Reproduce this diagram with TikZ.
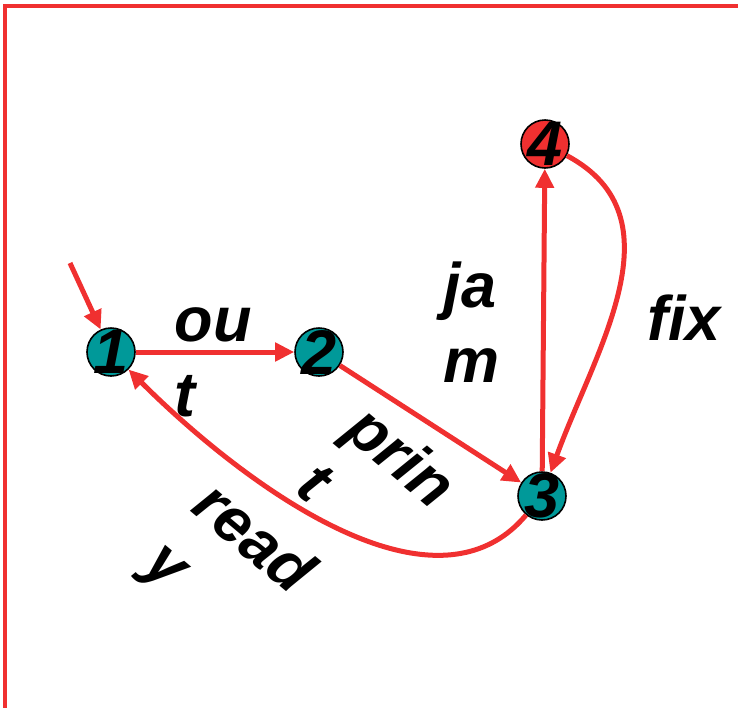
\documentclass[tikz,border=0pt]{standalone}
\usepackage{fontspec}
\setmainfont{Liberation Sans}
\usetikzlibrary{arrows.meta}
\definecolor{sc}{RGB}{0,153,153}
\definecolor{ac}{RGB}{240,48,48}
\tikzset{st/.style={circle,draw,line width=1.6pt,fill=sc,minimum size=48pt,inner sep=0pt},
 fs/.style={st,fill=ac},
 lab/.style={font=\fontsize{63}{75}\selectfont\bfseries\itshape,align=left,inner sep=0pt},
 dg/.style={lab,text=black},
 arr/.style={draw=ac,line width=5pt,-{Triangle[length=19pt,width=18pt]}}}
\begin{document}
\begin{tikzpicture}[x=1pt,y=1pt]
\useasboundingbox (0,0) rectangle (738,-707);
\draw[ac,line width=3.5pt] (5,-720) -- (5,-6) -- (750,-6);
% states
\node[st,label={[dg]center:1}] (n1) at (111,-352) {};
\node[st,label={[dg]center:2}] (n2) at (319,-352) {};
\node[st,label={[dg]center:3}] (n3) at (542,-496) {};
\node[fs,label={[dg]center:4}] (n4) at (545,-144) {};
\coordinate (s) at (70,-263);
% labels
\node[lab] (lo) at (213,-362) {ou\\t};
\node[lab] (lj) at (472,-322) {ja\\m};
\node[lab] (lf) at (684,-318) {fix};
\node[lab,rotate=-40] (lp) at (378,-484) {prin\\t};
\node[lab,rotate=-40] (lr) at (227,-570) {read\\y};
% transitions
\foreach \u/\v in {s/n1,n1/n2,n2/n3,n3/n4}{\draw[arr] (\u)--(\v);}
\draw[arr] (n4) to[out=-28,in=70,looseness=1.05] (n3);
\draw[arr] (n3) to[out=-130,in=-45,looseness=0.9] (n1);
\end{tikzpicture}
\end{document}
